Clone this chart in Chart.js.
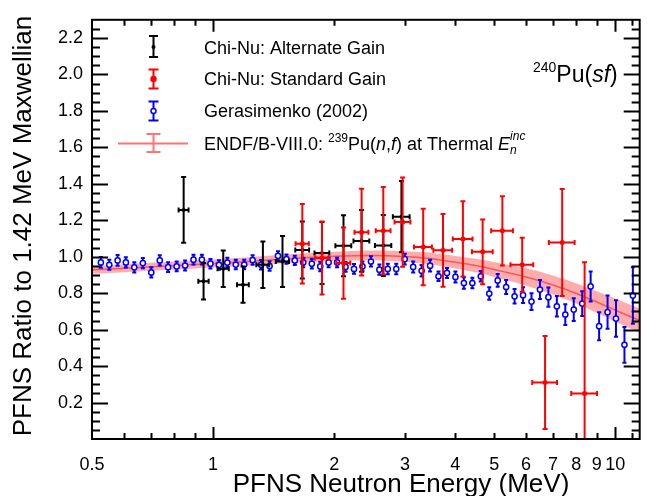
<!DOCTYPE html>
<html>
<head>
<meta charset="utf-8">
<title>240Pu(sf) PFNS ratio</title>
<script src="https://cdn.jsdelivr.net/npm/chart.js@4.4.1/dist/chart.umd.min.js"></script>
<style>
  html, body { margin: 0; padding: 0; background: #fff; }
  .box { position: relative; width: 647px; height: 496px; }
</style>
</head>
<body>
<div class="box"><canvas id="pfnsChart"></canvas></div>
<script>
// Chi-Nu, alternate gain (MeV, ratio, uncertainties)
const altEnergy = [0.845, 0.947, 1.06, 1.187, 1.33, 1.488, 1.667, 1.866, 2.11, 2.34, 2.65, 2.94];
const altEnergyErr = [0.024, 0.028, 0.034, 0.040, 0.049, 0.056, 0.066, 0.079, 0.096, 0.106, 0.124, 0.141];
const altRatio = [1.257, 0.865, 0.934, 0.847, 0.956, 0.974, 1.037, 1.02, 1.06, 1.087, 1.062, 1.22];
const altRatioErr = [0.18, 0.10, 0.10, 0.10, 0.127, 0.14, 0.157, 0.17, 0.167, 0.17, 0.167, 0.195];

// Chi-Nu, standard gain
const stdEnergy = [1.667, 1.866, 2.11, 2.34, 2.65, 2.96, 3.33, 3.73, 4.18, 4.68, 5.24, 5.87, 6.69, 7.38, 8.39];
const stdEnergyErr = [0.063, 0.072, 0.084, 0.093, 0.112, 0.134, 0.170, 0.200, 0.236, 0.278, 0.326, 0.382, 0.473, 0.543, 0.617];
const stdRatio = [1.071, 0.993, 0.965, 1.135, 1.142, 1.19, 1.053, 1.035, 1.098, 1.027, 1.142, 0.956, 0.31, 1.078, 0.25];
const stdRatioErr = [0.218, 0.2, 0.195, 0.238, 0.24, 0.245, 0.21, 0.2, 0.207, 0.178, 0.19, 0.148, 0.255, 0.293, 0.72];

// Gerasimenko (2002)
const gerEnergy = [0.526, 0.552, 0.579, 0.607, 0.637, 0.669, 0.702, 0.737, 0.773, 0.812,
  0.852, 0.894, 0.938, 0.985, 1.034, 1.085, 1.139, 1.195, 1.254, 1.316,
  1.382, 1.450, 1.522, 1.597, 1.676, 1.760, 1.847, 1.938, 2.034, 2.135,
  2.241, 2.352, 2.469, 2.591, 2.719, 2.854, 2.996, 3.144, 3.300, 3.464,
  3.635, 3.816, 4.005, 4.203, 4.412, 4.630, 4.860, 5.101, 5.354, 5.619,
  5.898, 6.190, 6.497, 6.819, 7.157, 7.512, 7.884, 8.275, 8.685, 9.116,
  9.568, 10.04, 10.54, 11.06];
const gerRatio = [0.969, 0.956, 0.980, 0.969, 0.942, 0.965, 0.914, 0.980, 0.943, 0.947,
  0.952, 0.984, 0.984, 0.962, 0.955, 0.968, 0.957, 0.957, 0.982, 0.956,
  0.949, 1.005, 0.987, 0.980, 0.969, 0.962, 0.947, 0.969, 0.969, 0.944,
  0.933, 0.947, 0.974, 0.929, 0.933, 0.933, 0.987, 0.944, 0.923, 0.951,
  0.893, 0.911, 0.889, 0.856, 0.856, 0.893, 0.798, 0.870, 0.834, 0.783,
  0.789, 0.754, 0.820, 0.778, 0.728, 0.683, 0.710, 0.743, 0.837, 0.619,
  0.696, 0.661, 0.517, 0.787];
const gerRatioErr = [0.029, 0.028, 0.029, 0.028, 0.028, 0.028, 0.028, 0.028, 0.027, 0.027,
  0.027, 0.027, 0.027, 0.026, 0.026, 0.026, 0.026, 0.026, 0.026, 0.026,
  0.026, 0.025, 0.025, 0.025, 0.026, 0.026, 0.026, 0.026, 0.026, 0.027,
  0.027, 0.027, 0.028, 0.028, 0.029, 0.029, 0.030, 0.030, 0.031, 0.032,
  0.026, 0.027, 0.030, 0.031, 0.029, 0.029, 0.034, 0.035, 0.039, 0.040,
  0.043, 0.046, 0.052, 0.053, 0.056, 0.057, 0.062, 0.068, 0.082, 0.077,
  0.091, 0.100, 0.098, 0.155];

// ENDF/B-VIII.0 239Pu(n,f) thermal, central value and 1-sigma half width
const endfEnergy = [0.5, 0.65, 0.878, 1.2, 1.546, 1.9, 2.26, 2.72, 3.36, 4.0, 4.53, 5.2, 6.01, 7.0, 7.97, 9.2, 10.6, 11.5];
const endfRatio = [0.928, 0.941, 0.956, 0.973, 0.989, 1.0, 1.006, 1.005, 0.993, 0.970, 0.950, 0.921, 0.889, 0.845, 0.800, 0.742, 0.683, 0.650];
const endfBand = [0.022, 0.022, 0.022, 0.023, 0.024, 0.025, 0.026, 0.028, 0.031, 0.034, 0.037, 0.042, 0.048, 0.052, 0.055, 0.060, 0.064, 0.066];

// axis ticks
const xTickLabels = [0.5, 1, 2, 3, 4, 5, 6, 7, 8, 9, 10];
const xTickValues = [0.5, 0.6, 0.7, 0.8, 0.9, 1, 2, 3, 4, 5, 6, 7, 8, 9, 10, 11];
const yTickLabels = [0.2, 0.4, 0.6, 0.8, 1.0, 1.2, 1.4, 1.6, 1.8, 2.0, 2.2];

const FONT = "'Liberation Sans', Arial, Helvetica, sans-serif";
const RED = '#ff0000', BLUE = '#0000ff', BLACK = '#000000';
const BAND_FILL = 'rgba(255, 70, 70, 0.45)';
const BAND_LINE = 'rgba(240, 60, 60, 0.75)';

const pts = (xs, ys) => xs.map((v, i) => ({ x: v, y: ys[i] }));

// error bars are drawn just before each dataset's markers
const errorBars = {
  id: 'errorBars',
  beforeDatasetDraw(chart, args) {
    const ds = chart.data.datasets[args.index];
    if (!ds.yErr) return;
    const { ctx, chartArea: a, scales: { x, y } } = chart;
    const cap = ds.capSize || 2.5;
    ctx.save();
    ctx.beginPath();
    ctx.rect(a.left, a.top, a.right - a.left, a.bottom - a.top);
    ctx.clip();
    ctx.strokeStyle = ds.borderColor;
    ctx.lineWidth = ds.barWidth || 2;
    ds.data.forEach((p, i) => {
      const px = x.getPixelForValue(p.x);
      const py = y.getPixelForValue(p.y);
      const lo = y.getPixelForValue(p.y - ds.yErr[i]);
      const hi = y.getPixelForValue(p.y + ds.yErr[i]);
      ctx.beginPath();
      ctx.moveTo(px, lo); ctx.lineTo(px, hi);
      ctx.moveTo(px - cap, lo); ctx.lineTo(px + cap, lo);
      ctx.moveTo(px - cap, hi); ctx.lineTo(px + cap, hi);
      if (ds.xErr) {
        const l = x.getPixelForValue(p.x - ds.xErr[i]);
        const r = x.getPixelForValue(p.x + ds.xErr[i]);
        ctx.moveTo(l, py); ctx.lineTo(r, py);
        ctx.moveTo(l, py - cap); ctx.lineTo(l, py + cap);
        ctx.moveTo(r, py - cap); ctx.lineTo(r, py + cap);
      }
      ctx.stroke();
    });
    ctx.restore();
  }
};

// write a run of mixed text pieces (super/subscripts, italics)
function drawRuns(ctx, x, base, runs) {
  let cx = x;
  runs.forEach(r => {
    ctx.font = (r.italic ? 'italic ' : '') + r.size + 'px ' + FONT;
    ctx.fillText(r.t, cx, base + (r.dy || 0));
    const w = ctx.measureText(r.t).width;
    if (r.stack) {
      ctx.font = (r.stack.italic ? 'italic ' : '') + r.stack.size + 'px ' + FONT;
      ctx.fillText(r.stack.t, cx, base + r.stack.dy);
      cx += Math.max(w, ctx.measureText(r.stack.t).width);
    } else {
      cx += w;
    }
  });
}

// frame, inward ticks, titles, legend and reaction label
const decorations = {
  id: 'decorations',
  afterDraw(chart) {
    const { ctx, chartArea: a, scales: { x, y } } = chart;
    ctx.save();
    ctx.strokeStyle = BLACK;
    ctx.lineWidth = 2;
    ctx.strokeRect(a.left, a.top, a.right - a.left, a.bottom - a.top);

    ctx.beginPath();
    for (let k = 1; k * 0.05 < 2.3; k++) {
      const v = k * 0.05;
      const py = Math.round(y.getPixelForValue(v)) + 0.5;
      const len = (k % 4 === 0) ? 16 : 8;
      ctx.moveTo(a.left, py); ctx.lineTo(a.left + len, py);
      ctx.moveTo(a.right, py); ctx.lineTo(a.right - len, py);
    }
    xTickValues.forEach(v => {
      if (v <= x.min || v >= x.max) return;
      const px = Math.round(x.getPixelForValue(v)) + 0.5;
      const len = (v === 1 || v === 10) ? 12 : 6;
      ctx.moveTo(px, a.bottom); ctx.lineTo(px, a.bottom - len);
      ctx.moveTo(px, a.top); ctx.lineTo(px, a.top + len);
    });
    ctx.stroke();

    // axis titles
    ctx.fillStyle = BLACK;
    ctx.font = '26px ' + FONT;
    ctx.textAlign = 'center';
    ctx.textBaseline = 'alphabetic';
    ctx.fillText('PFNS Neutron Energy (MeV)', 401, 492);
    ctx.save();
    ctx.translate(31, 226);
    ctx.rotate(-Math.PI / 2);
    ctx.fillText('PFNS Ratio to 1.42 MeV Maxwellian', 0, 0);
    ctx.restore();

    // legend
    ctx.textAlign = 'left';
    const lx = 153.5;
    ctx.lineWidth = 2;
    // alternate gain
    ctx.strokeStyle = BLACK;
    ctx.beginPath();
    ctx.moveTo(lx, 36); ctx.lineTo(lx, 57);
    ctx.moveTo(lx - 4.5, 36); ctx.lineTo(lx + 4.5, 36);
    ctx.moveTo(lx - 4.5, 57); ctx.lineTo(lx + 4.5, 57);
    ctx.stroke();
    ctx.fillStyle = BLACK;
    ctx.beginPath(); ctx.arc(lx, 47, 2, 0, Math.PI * 2); ctx.fill();
    // standard gain
    ctx.strokeStyle = RED;
    ctx.beginPath();
    ctx.moveTo(lx, 69.5); ctx.lineTo(lx, 88.5);
    ctx.moveTo(lx - 5, 69.5); ctx.lineTo(lx + 5, 69.5);
    ctx.moveTo(lx - 5, 88.5); ctx.lineTo(lx + 5, 88.5);
    ctx.stroke();
    ctx.fillStyle = RED;
    ctx.beginPath(); ctx.arc(lx, 79, 3.2, 0, Math.PI * 2); ctx.fill();
    // Gerasimenko
    ctx.strokeStyle = BLUE;
    ctx.beginPath();
    ctx.moveTo(lx, 101.5); ctx.lineTo(lx, 120.5);
    ctx.moveTo(lx - 5, 101.5); ctx.lineTo(lx + 5, 101.5);
    ctx.moveTo(lx - 5, 120.5); ctx.lineTo(lx + 5, 120.5);
    ctx.stroke();
    ctx.fillStyle = '#fff';
    ctx.lineWidth = 1.5;
    ctx.beginPath(); ctx.arc(lx, 111, 2.5, 0, Math.PI * 2); ctx.fill(); ctx.stroke();
    // ENDF band
    ctx.strokeStyle = 'rgba(255, 90, 90, 0.85)';
    ctx.lineWidth = 2;
    ctx.beginPath();
    ctx.moveTo(118, 143.5); ctx.lineTo(188, 143.5);
    ctx.moveTo(lx, 134); ctx.lineTo(lx, 152);
    ctx.moveTo(lx - 7, 134); ctx.lineTo(lx + 7, 134);
    ctx.moveTo(lx - 7, 152); ctx.lineTo(lx + 7, 152);
    ctx.stroke();

    ctx.fillStyle = BLACK;
    const tx = 204;
    drawRuns(ctx, tx, 53.5, [{ t: 'Chi-Nu: Alternate Gain', size: 18 }]);
    drawRuns(ctx, tx, 85, [{ t: 'Chi-Nu: Standard Gain', size: 18 }]);
    drawRuns(ctx, tx, 117, [{ t: 'Gerasimenko (2002)', size: 18 }]);
    drawRuns(ctx, tx, 150, [
      { t: 'ENDF/B-VIII.0: ', size: 18 },
      { t: '239', size: 12, dy: -8 },
      { t: 'Pu(', size: 18 },
      { t: 'n', size: 18, italic: true },
      { t: ',', size: 18 },
      { t: 'f', size: 18, italic: true },
      { t: ') at Thermal ', size: 18 },
      { t: 'E', size: 18, italic: true },
      { t: 'n', size: 12, italic: true, dy: 4, stack: { t: 'inc', size: 12, italic: true, dy: -10 } }
    ]);

    // reaction label
    drawRuns(ctx, 533, 82, [
      { t: '240', size: 14, dy: -10 },
      { t: 'Pu(', size: 23 },
      { t: 'sf', size: 23, italic: true },
      { t: ')', size: 23 }
    ]);
    ctx.restore();
  }
};

Chart.defaults.font.family = FONT;
Chart.defaults.color = BLACK;

new Chart(document.getElementById('pfnsChart'), {
  type: 'scatter',
  data: {
    datasets: [
      {
        label: 'ENDF upper',
        type: 'line',
        data: pts(endfEnergy, endfRatio.map((v, i) => v + endfBand[i])),
        borderWidth: 0,
        pointRadius: 0,
        tension: 0.4,
        fill: false,
        order: 10
      },
      {
        label: 'ENDF lower',
        type: 'line',
        data: pts(endfEnergy, endfRatio.map((v, i) => v - endfBand[i])),
        borderWidth: 0,
        pointRadius: 0,
        tension: 0.4,
        fill: '-1',
        backgroundColor: BAND_FILL,
        order: 9
      },
      {
        label: 'ENDF/B-VIII.0',
        type: 'line',
        data: pts(endfEnergy, endfRatio),
        borderColor: BAND_LINE,
        borderWidth: 1.5,
        pointRadius: 0,
        tension: 0.4,
        fill: false,
        order: 8
      },
      {
        label: 'Gerasimenko (2002)',
        data: pts(gerEnergy, gerRatio),
        yErr: gerRatioErr,
        capSize: 2,
        barWidth: 2,
        borderColor: BLUE,
        backgroundColor: '#ffffff',
        pointRadius: 2.6,
        borderWidth: 1.5,
        order: 3
      },
      {
        label: 'Chi-Nu: Alternate Gain',
        data: pts(altEnergy, altRatio),
        yErr: altRatioErr,
        xErr: altEnergyErr,
        capSize: 2.5,
        barWidth: 2,
        borderColor: BLACK,
        backgroundColor: BLACK,
        pointRadius: 2,
        borderWidth: 0,
        order: 2
      },
      {
        label: 'Chi-Nu: Standard Gain',
        data: pts(stdEnergy, stdRatio),
        yErr: stdRatioErr,
        xErr: stdEnergyErr,
        capSize: 2.5,
        barWidth: 2,
        borderColor: RED,
        backgroundColor: RED,
        pointRadius: 2.5,
        borderWidth: 0,
        order: 1
      }
    ]
  },
  options: {
    responsive: true,
    maintainAspectRatio: false,
    devicePixelRatio: 1,
    animation: false,
    layout: { padding: { top: 18, right: 2, left: 0, bottom: 0 } },
    plugins: { legend: { display: false }, tooltip: { enabled: false } },
    scales: {
      x: {
        type: 'logarithmic',
        min: 0.5,
        max: 11.5,
        grid: { display: false, drawTicks: false },
        border: { display: false },
        afterBuildTicks: s => { s.ticks = xTickValues.map(v => ({ value: v })); },
        afterFit: s => { s.height = 57; },
        ticks: {
          autoSkip: false,
          maxRotation: 0,
          padding: 15,
          font: { size: 18 },
          color: BLACK,
          callback: v => xTickLabels.includes(v) ? String(v) : ''
        }
      },
      y: {
        min: 0,
        max: 2.3,
        grid: { display: false, drawTicks: false },
        border: { display: false },
        afterBuildTicks: s => { s.ticks = yTickLabels.map(v => ({ value: v })); },
        afterFit: s => { s.width = 92; },
        ticks: {
          autoSkip: false,
          padding: 9,
          font: { size: 18 },
          color: BLACK,
          callback: v => v.toFixed(1)
        }
      }
    }
  },
  plugins: [errorBars, decorations]
});
</script>
</body>
</html>
